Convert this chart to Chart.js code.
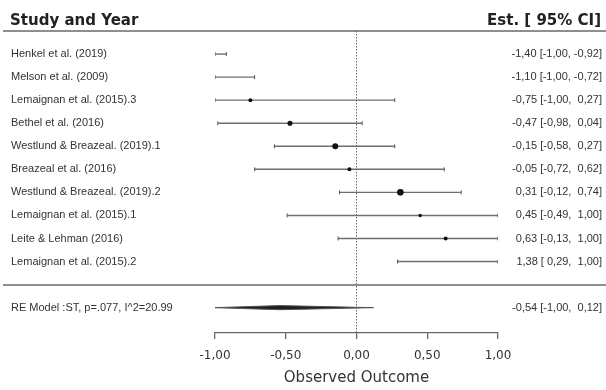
<!DOCTYPE html>
<html>
<head>
<meta charset="utf-8">
<script src="https://cdn.jsdelivr.net/npm/chart.js@4/dist/chart.umd.min.js"></script>
<style>
  html, body { margin: 0; padding: 0; background: #fff; }
  #wrap { width: 606px; height: 390px; position: relative; }
</style>
</head>
<body>
<div id="wrap"><canvas id="c"></canvas></div>
<script>
// ---- data ----
const studies = [
  'Henkel et al. (2019)',
  'Melson et al. (2009)',
  'Lemaignan et al. (2015).3',
  'Bethel et al. (2016)',
  'Westlund & Breazeal. (2019).1',
  'Breazeal et al. (2016)',
  'Westlund & Breazeal. (2019).2',
  'Lemaignan et al. (2015).1',
  'Leite & Lehman (2016)',
  'Lemaignan et al. (2015).2'
];
const estimates = [-1.40, -1.10, -0.75, -0.47, -0.15, -0.05, 0.31, 0.45, 0.63, 1.38];
const ciLower   = [-1.00, -1.00, -1.00, -0.98, -0.58, -0.72, -0.12, -0.49, -0.13, 0.29];
const ciUpper   = [-0.92, -0.72, 0.27, 0.04, 0.27, 0.62, 0.74, 1.00, 1.00, 1.00];
const weights   = [5, 5, 4, 6.5, 9, 4, 11, 3, 4, 5];

const reLabel = 'RE Model :ST, p=.077, I^2=20.99';
const reEstimate = -0.54;
const reLower = -1.00;
const reUpper = 0.12;

const headers = ['Study and Year', 'Est. [ 95% CI]'];
const xTickValues = [-1, -0.5, 0, 0.5, 1];
const xTickLabels = ['-1,00', '-0,50', '0,00', '0,50', '1,00'];
const xTitle = 'Observed Outcome';

// ---- derived ----
const studyRows = studies.map((s, i) => i + 1);
const reRow = studies.length + 2;
const separatorRows = [0, studies.length + 1];
const rowPositions = studyRows.concat([reRow]);
const yMax = reRow + 1.1;

const fmt = v => v.toFixed(2).replace('.', ',');
const pad = v => (v >= 0 ? ' ' : '') + fmt(v);
const ciText = (e, l, u) => fmt(e) + ' [' + pad(l) + ', ' + pad(u) + ']';
const leftLabels = studies.concat([reLabel]);
const rightLabels = estimates.map((e, i) => ciText(e, ciLower[i], ciUpper[i]))
  .concat([ciText(reEstimate, reLower, reUpper)]);

const datasets = [];
// point estimates
datasets.push({
  type: 'scatter',
  data: estimates.map((e, i) => ({ x: e, y: studyRows[i] })),
  pointRadius: weights.map(w => Math.sqrt(w)),
  pointHoverRadius: weights.map(w => Math.sqrt(w)),
  backgroundColor: '#111',
  borderColor: '#111',
  borderWidth: 0,
  order: 0
});
// CI end caps
datasets.push({
  type: 'scatter',
  data: ciLower.map((l, i) => ({ x: l, y: studyRows[i] }))
    .concat(ciUpper.map((u, i) => ({ x: u, y: studyRows[i] }))),
  pointStyle: 'line',
  rotation: 90,
  pointRadius: 2,
  borderColor: '#555',
  borderWidth: 1,
  order: 1
});
// CI lines
studies.forEach((s, i) => {
  datasets.push({
    type: 'line',
    data: [{ x: ciLower[i], y: studyRows[i] }, { x: ciUpper[i], y: studyRows[i] }],
    borderColor: '#6e6e6e',
    borderWidth: 1.4,
    pointRadius: 0,
    fill: false,
    order: 2
  });
});
// summary diamond
const dh = 0.09;
datasets.push({
  type: 'line',
  data: [
    { x: reLower, y: reRow },
    { x: reEstimate, y: reRow - dh },
    { x: reUpper, y: reRow },
    { x: reEstimate, y: reRow + dh },
    { x: reLower, y: reRow }
  ],
  borderColor: '#555',
  borderWidth: 1,
  backgroundColor: '#1e1e1e',
  fill: 'shape',
  pointRadius: 0,
  tension: 0,
  order: 2
});
// reference line at 0
datasets.push({
  type: 'line',
  data: [{ x: 0, y: 0 }, { x: 0, y: yMax }],
  borderColor: '#666',
  borderWidth: 1,
  borderDash: [1.5, 1.5],
  pointRadius: 0,
  fill: false,
  order: 3
});

const decor = {
  id: 'forestDecor',
  beforeDatasetsDraw(chart) {
    const ctx = chart.ctx;
    const ys = chart.scales.y;
    ctx.save();
    ctx.strokeStyle = '#8e8e8e';
    ctx.lineWidth = 2;
    separatorRows.forEach(v => {
      const py = Math.round(ys.getPixelForValue(v));
      ctx.beginPath();
      ctx.moveTo(3, py);
      ctx.lineTo(chart.width, py);
      ctx.stroke();
    });
    ctx.restore();
  },
  afterDraw(chart) {
    const ctx = chart.ctx;
    ctx.save();
    ctx.font = 'bold 15px "DejaVu Sans"';
    ctx.fillStyle = '#222';
    ctx.textBaseline = 'alphabetic';
    ctx.textAlign = 'left';
    ctx.fillText(headers[0], chart.scales.y.left - 1, 25);
    ctx.textAlign = 'right';
    ctx.fillText(headers[1], chart.scales.y2.right - 1, 25);
    ctx.restore();
  }
};

const yCommon = (labels, position, width) => ({
  type: 'linear',
  position: position,
  reverse: true,
  min: 0,
  max: yMax,
  grid: { display: false, drawTicks: false },
  border: { display: false },
  afterBuildTicks: scale => { scale.ticks = rowPositions.map(v => ({ value: v })); },
  afterFit: scale => { scale.width = width; },
  ticks: {
    autoSkip: false,
    crossAlign: 'far',
    padding: 0,
    color: '#333',
    font: { family: '"Liberation Sans", Arial, sans-serif', size: 11 },
    callback: (v, i) => labels[i]
  }
});

new Chart(document.getElementById('c'), {
  type: 'scatter',
  data: { datasets },
  options: {
    responsive: true,
    maintainAspectRatio: false,
    animation: false,
    events: [],
    layout: { padding: { left: 11, right: 4, top: 31, bottom: 0 } },
    plugins: { legend: { display: false }, tooltip: { enabled: false } },
    scales: {
      x: {
        type: 'linear',
        position: 'bottom',
        min: -1,
        max: 1,
        afterBuildTicks: scale => { scale.ticks = xTickValues.map(v => ({ value: v })); },
        afterFit: scale => { scale.height = 57; },
        grid: { display: true, drawOnChartArea: false, drawTicks: true, tickLength: 6, color: '#666', lineWidth: 1.3 },
        border: { display: true, color: '#666', width: 1.3 },
        ticks: {
          padding: 10,
          color: '#333',
          font: { family: '"DejaVu Sans", sans-serif', size: 12 },
          callback: (v, i) => xTickLabels[i]
        },
        title: {
          display: true,
          text: xTitle,
          color: '#333',
          font: { family: '"DejaVu Sans", sans-serif', size: 15 },
          padding: { top: 0, bottom: 3 }
        }
      },
      y: yCommon(leftLabels, 'left', 204),
      y2: yCommon(rightLabels, 'right', 104)
    }
  },
  plugins: [decor]
});
</script>
</body>
</html>
